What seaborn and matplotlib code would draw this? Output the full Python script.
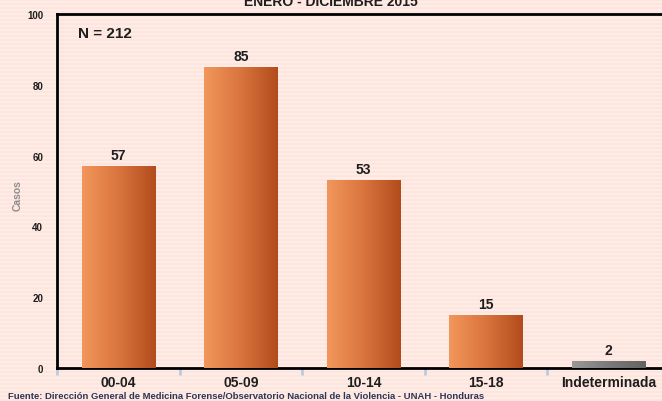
import numpy as np
import pandas as pd
import matplotlib
matplotlib.use("Agg")
import matplotlib.pyplot as plt
import seaborn as sns
from matplotlib.colors import LinearSegmentedColormap

categories = ["00-04", "05-09", "10-14", "15-18", "Indeterminada"]
casos = [57, 85, 53, 15, 2]
y_ticks = [0, 20, 40, 60, 80, 100]
title = "ENERO - DICIEMBRE 2015"
n_label = "N = 212"
source = "Fuente: Dirección General de Medicina Forense/Observatorio Nacional de la Violencia - UNAH - Honduras"

sns.set_theme(style="white")
plt.rcParams['font.family'] = ['Liberation Sans', 'DejaVu Sans']

df = pd.DataFrame({"grupo": categories, "casos": casos})

fig = plt.figure(figsize=(6.62, 4.02), dpi=100)
fig.patch.set_facecolor("#FDE6E0")
# striped background
h = 402
stripe = np.zeros((h, 662, 3))
c1 = np.array([0xFD, 0xE4, 0xDD]) / 255
c2 = np.array([0xFE, 0xEC, 0xE7]) / 255
for r in range(h):
    stripe[r, :, :] = c1 if (r // 2) % 2 == 0 else c2
fig.figimage(stripe, xo=0, yo=0, zorder=-5)

ax = fig.add_axes([57/662, 1 - 369/402, 613/662, 354/402])
ax.set_zorder(2)
ax.patch.set_alpha(0)

sns.barplot(data=df, x="grupo", y="casos", ax=ax, width=0.6,
            color="#E07A40", saturation=1, zorder=2)

orange = LinearSegmentedColormap.from_list("o", ["#F2975C", "#D9743E", "#B24C1C"])
gray = LinearSegmentedColormap.from_list("g", ["#999999", "#7A7A7A", "#636363"])
grad = np.linspace(0, 1, 256).reshape(1, -1)
for i, p in enumerate(ax.patches):
    x0, w, hgt = p.get_x(), p.get_width(), p.get_height()
    cmap = gray if categories[i] == "Indeterminada" else orange
    im = ax.imshow(grad, extent=[x0, x0 + w, 0, hgt], aspect="auto",
                   cmap=cmap, zorder=3, origin="lower")
    im.set_clip_path(p)
    p.set_alpha(0)
    ax.text(x0 + w / 2, hgt + 1.2, str(casos[i]), ha="center", va="bottom",
            fontsize=10, fontweight="bold", color="#1E1E1E", zorder=4)

ax.set_xlim(-0.5, 4.5)
ax.set_ylim(0, 100)
ax.set_yticks(y_ticks)
ax.set_yticklabels([str(v) for v in y_ticks], fontsize=7, fontweight="bold", color="#1E1E1E")
ax.tick_params(axis="y", length=0, pad=10)
ax.set_xticks(range(len(categories)))
ax.set_xticklabels(categories, fontsize=10, fontweight="bold", color="#1E1E1E")
ax.tick_params(axis="x", which="major", length=0, pad=5)
ax.set_xticks(np.arange(-0.5, 5, 1), minor=True)
ax.tick_params(axis="x", which="minor", bottom=True, length=5, width=2,
               color="#B8CCE4", direction="out")
ax.set_xlabel("")
ax.set_ylabel("Casos", fontsize=7.5, color="#8C8C8C", fontweight="bold")
ax.yaxis.set_label_coords(-0.056, 0.49)

for s in ["left", "bottom", "top"]:
    ax.spines[s].set_visible(True)
    ax.spines[s].set_color("black")
    ax.spines[s].set_linewidth(2)
ax.spines["right"].set_visible(False)

ax.text(0.035, 0.945, n_label, transform=ax.transAxes, fontsize=11,
        fontweight="bold", color="#1E1E1E", va="center")

fig.text(0.5, 1 - 8.5/402, title, ha="center", va="bottom", fontsize=10,
         fontweight="bold", color="#1E1E1E")
fig.text(8/662, 1 - 397/402, source, ha="left", va="center", fontsize=6.8,
         fontweight="bold", color="#2E3656")

fig.savefig("out.png", dpi=100, facecolor=fig.get_facecolor())
